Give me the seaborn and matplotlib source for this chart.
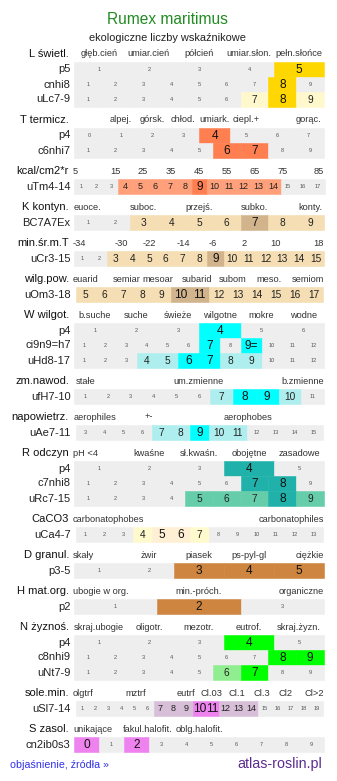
import matplotlib
matplotlib.use("Agg")
import matplotlib.pyplot as plt
import seaborn as sns


def rng(a, b):
    return [str(i) for i in range(a, b + 1)]


# ---- dane ----
title = "Rumex maritimus"
subtitle = "ekologiczne liczby wskaźnikowe"

L_ticks = ["głęb.cień", "umiar.cień", "półcień", "umiar.słon.", "pełn.słońce"]
L_tick_at = [1, 2, 3, 4, 5]
L_rows = ["p5", "cnhi8", "uLc7-9"]
L_cells = [rng(1, 5), rng(1, 9), rng(1, 9)]
L_strong = [["5"], ["8"], ["8"]]
L_weak = [[], [], ["7", "9"]]

T_ticks = ["alpej.", "górsk.", "chłod.", "umiark.", "ciepl.+", "gorąc."]
T_tick_at = [1, 2, 3, 4, 5, 7]
T_rows = ["p4", "c6nhi7"]
T_cells = [rng(0, 7), rng(1, 9)]
T_strong = [["4"], ["6", "7"]]
T_weak = [[], []]

kc_ticks = ["5", "15", "25", "35", "45", "55", "65", "75", "85"]
kc_tick_at = [0.5, 3.28, 5.17, 7.07, 8.97, 10.87, 12.7, 14.6, 17.5]
kc_rows = ["uTm4-14"]
kc_cells = [rng(1, 17)]
kc_strong = [["9"]]
kc_weak = [["4", "5", "6", "7", "8", "10", "11", "12", "13", "14"]]

K_ticks = ["euoce.", "suboc.", "przejś.", "subko.", "konty."]
K_tick_at = [1, 3, 5, 7, 9]
K_rows = ["BC7A7Ex"]
K_cells = [rng(1, 9)]
K_strong = [["7"]]
K_weak = [["3", "4", "5", "6", "8", "9"]]

mt_ticks = ["-34", "-30", "-22", "-14", "-6", "2", "10", "18"]
mt_tick_at = [0.5, 3.32, 5.0, 7.04, 8.84, 10.7, 12.6, 15.5]
mt_rows = ["uCr3-15"]
mt_cells = [rng(1, 15)]
mt_strong = [["9"]]
mt_weak = [rng(3, 8) + rng(10, 15)]

wp_ticks = ["euarid", "semiar", "mesoar", "subarid", "subom", "meso.", "semiom"]
wp_tick_at = [5, 7.18, 8.82, 10.87, 12.76, 14.66, 17]
wp_rows = ["uOm3-18"]
wp_cells = [rng(5, 17)]
wp_strong = [["10", "11"]]
wp_weak = [rng(5, 9) + rng(12, 17)]

W_ticks = ["b.suche", "suche", "świeże", "wilgotne", "mokre", "wodne"]
W_tick_at = [1, 2, 3, 4, 5, 6]
W_rows = ["p4", "ci9n9=h7", "uHd8-17"]
W_cells = [rng(1, 6), rng(1, 8) + ["9="] + rng(10, 12), rng(1, 12)]
W_strong = [["4"], ["7", "9="], ["6", "7"]]
W_weak = [[], [], ["4", "5", "8", "9"]]

zm_ticks = ["stałe", "um.zmienne", "b.zmienne"]
zm_tick_at = [1, 6, 11]
zm_rows = ["ufH7-10"]
zm_cells = [rng(1, 11)]
zm_strong = [["8", "9"]]
zm_weak = [["7", "10"]]

ae_ticks = ["aerophiles", "+-", "aerophobes"]
ae_tick_at = [3.5, 6.34, 11.55]
ae_rows = ["uAe7-11"]
ae_cells = [rng(3, 15)]
ae_strong = [["9"]]
ae_weak = [["7", "8", "10", "11"]]

R_ticks = ["pH <4", "kwaśne", "sł.kwaśn.", "obojętne", "zasadowe"]
R_tick_at = [0.5, 2, 3, 4, 5]
R_rows = ["p4", "c7nhi8", "uRc7-15"]
R_cells = [rng(1, 5), rng(1, 9), rng(1, 9)]
R_strong = [["4"], ["7", "8"], ["8"]]
R_weak = [[], [], ["5", "6", "7", "9"]]

Ca_ticks = ["carbonatophobes", "carbonatophiles"]
Ca_tick_at = [1, 13]
Ca_rows = ["uCa4-7"]
Ca_cells = [rng(1, 13)]
Ca_strong = [["5", "6"]]
Ca_weak = [["4", "7"]]

D_ticks = ["skały", "żwir", "piasek", "ps-pyl-gl", "ciężkie"]
D_tick_at = [0.5, 2, 3, 4, 5.5]
D_rows = ["p3-5"]
D_cells = [rng(1, 5)]
D_strong = [["3", "4", "5"]]
D_weak = [[]]

H_ticks = ["ubogie w org.", "min.-próch.", "organiczne"]
H_tick_at = [0.5, 2, 3.5]
H_rows = ["p2"]
H_cells = [rng(1, 3)]
H_strong = [["2"]]
H_weak = [[]]

N_ticks = ["skraj.ubogie", "oligotr.", "mezotr.", "eutrof.", "skraj.żyzn."]
N_tick_at = [1, 2, 3, 4, 5]
N_rows = ["p4", "c8nhi9", "uNt7-9"]
N_cells = [rng(1, 5), rng(1, 9), rng(1, 9)]
N_strong = [["4"], ["8", "9"], ["7"]]
N_weak = [[], [], ["6"]]

sl_ticks = ["olgtrf", "mztrf", "eutrf", "Cl.03", "Cl.1", "Cl.3", "Cl2", "Cl>2"]
sl_tick_at = [1, 5.1, 8.96, 10.88, 12.88, 14.8, 16.65, 19]
sl_rows = ["uSl7-14"]
sl_cells = [rng(1, 19)]
sl_strong = [["10", "11"]]
sl_weak = [["7", "8", "9", "12", "13", "14"]]

S_ticks = ["unikające", "fakul.halofit.", "oblg.halofit."]
S_tick_at = [0, 2.46, 4.5]
S_rows = ["cn2ib0s3"]
S_cells = [rng(0, 9)]
S_strong = [["0", "2"]]
S_weak = [[]]

sections = [
    ("L świetl.", L_ticks, L_tick_at, L_rows, L_cells, L_strong, L_weak, "#FFD700", "#FFF8CC"),
    ("T termicz.", T_ticks, T_tick_at, T_rows, T_cells, T_strong, T_weak, "#FF7F50", "#FFA07A"),
    ("kcal/cm2*r", kc_ticks, kc_tick_at, kc_rows, kc_cells, kc_strong, kc_weak, "#FF7F50", "#FFA07A"),
    ("K kontyn.", K_ticks, K_tick_at, K_rows, K_cells, K_strong, K_weak, "#D2B48C", "#F5DEB3"),
    ("min.śr.m.T", mt_ticks, mt_tick_at, mt_rows, mt_cells, mt_strong, mt_weak, "#D2B48C", "#F5DEB3"),
    ("wilg.pow.", wp_ticks, wp_tick_at, wp_rows, wp_cells, wp_strong, wp_weak, "#D2B48C", "#F5DEB3"),
    ("W wilgot.", W_ticks, W_tick_at, W_rows, W_cells, W_strong, W_weak, "#00FFFF", "#AFEEEE"),
    ("zm.nawod.", zm_ticks, zm_tick_at, zm_rows, zm_cells, zm_strong, zm_weak, "#00FFFF", "#AFEEEE"),
    ("napowietrz.", ae_ticks, ae_tick_at, ae_rows, ae_cells, ae_strong, ae_weak, "#00FFFF", "#AFEEEE"),
    ("R odczyn", R_ticks, R_tick_at, R_rows, R_cells, R_strong, R_weak, "#20B2AA", "#66CDAA"),
    ("CaCO3", Ca_ticks, Ca_tick_at, Ca_rows, Ca_cells, Ca_strong, Ca_weak, "#FFEFD5", "#FFFACD"),
    ("D granul.", D_ticks, D_tick_at, D_rows, D_cells, D_strong, D_weak, "#CD853F", "#CD853F"),
    ("H mat.org.", H_ticks, H_tick_at, H_rows, H_cells, H_strong, H_weak, "#CD853F", "#CD853F"),
    ("N żyznoś.", N_ticks, N_tick_at, N_rows, N_cells, N_strong, N_weak, "#00FF00", "#90EE90"),
    ("sole.min.", sl_ticks, sl_tick_at, sl_rows, sl_cells, sl_strong, sl_weak, "#EE82EE", "#D8BFD8"),
    ("S zasol.", S_ticks, S_tick_at, S_rows, S_cells, S_strong, S_weak, "#EE82EE", "#D8BFD8"),
]


def row_extent(n):
    # szerokosc paska zalezy od liczby komorek
    if n in (13, 19):
        return 76.0, 323.0
    if n == 17:
        return 74.0, 325.0
    return 74.0, 324.0


def main():
    sns.set_theme(style="white")
    plt.rcParams["font.family"] = ["Liberation Sans", "DejaVu Sans"]

    fig = plt.figure(figsize=(3.37, 7.81), dpi=100)
    ax = fig.add_axes([0, 0, 1, 1])
    ax.set_xlim(0, 337)
    ax.set_ylim(781, 0)
    ax.axis("off")
    renderer = fig.canvas.get_renderer()

    ax.text(167, 20, title, ha="center", va="center", fontsize=11.2, color="#228B22")
    ax.text(167.5, 38, subtitle, ha="center", va="center", fontsize=7.9, color="#222222")

    y = 54
    for name, ticks, tick_at, rows, cells, strong, weak, c_strong, c_weak in sections:
        ax.text(69, y, name, ha="right", va="center", fontsize=8, color="#111111")

        # etykiety skali nad paskiem (przyciete do krawedzi)
        ref = cells[0]
        x0, x1 = row_extent(len(ref))
        w = (x1 - x0) / len(ref)
        first = int(ref[0].rstrip("="))
        for lab, v in zip(ticks, tick_at):
            xc = x0 + (v - first + 0.5) * w
            t = ax.text(xc, y, lab, ha="center", va="center", fontsize=6.7, color="#333333")
            tw = t.get_window_extent(renderer).width
            if xc - tw / 2 < 73:
                t.set_x(73 + tw / 2)
            elif xc + tw / 2 > 324:
                t.set_x(324 - tw / 2)

        for i, (rname, rc, rs, rw) in enumerate(zip(rows, cells, strong, weak)):
            yc = y + 15.5 + 15 * i
            n = len(rc)
            x0, x1 = row_extent(n)
            w = (x1 - x0) / n
            lefts = [x0 + k * w for k in range(n)]
            colors = [c_strong if c in rs else c_weak if c in rw else "#EEEEEE" for c in rc]
            ax.barh([yc] * n, [w] * n, left=lefts, height=14.4, color=colors,
                    edgecolor=colors, linewidth=0.4)
            ax.text(70.5, yc, rname, ha="right", va="center", fontsize=8, color="#222222")
            for left, c in zip(lefts, rc):
                if c in rs:
                    fs, col = 8.6, "#111111"
                elif c in rw:
                    fs, col = (6.5 if n >= 17 else 7.3), "#222222"
                else:
                    fs, col = 4.1, "#555555"
                ax.text(left + w / 2, yc + 0.3, c, ha="center", va="center",
                        fontsize=fs, color=col)
        y += 36 + 15 * (len(rows) - 1)

    ax.text(10, 765, "objaśnienie, źródła »", ha="left", va="center", fontsize=7.7, color="#3030E8")
    ax.text(322, 764, "atlas-roslin.pl", ha="right", va="center", fontsize=10.3, color="#5B2C8F")

    fig.savefig("out.png", dpi=100, facecolor="white")
    plt.close(fig)


if __name__ == "__main__":
    main()
